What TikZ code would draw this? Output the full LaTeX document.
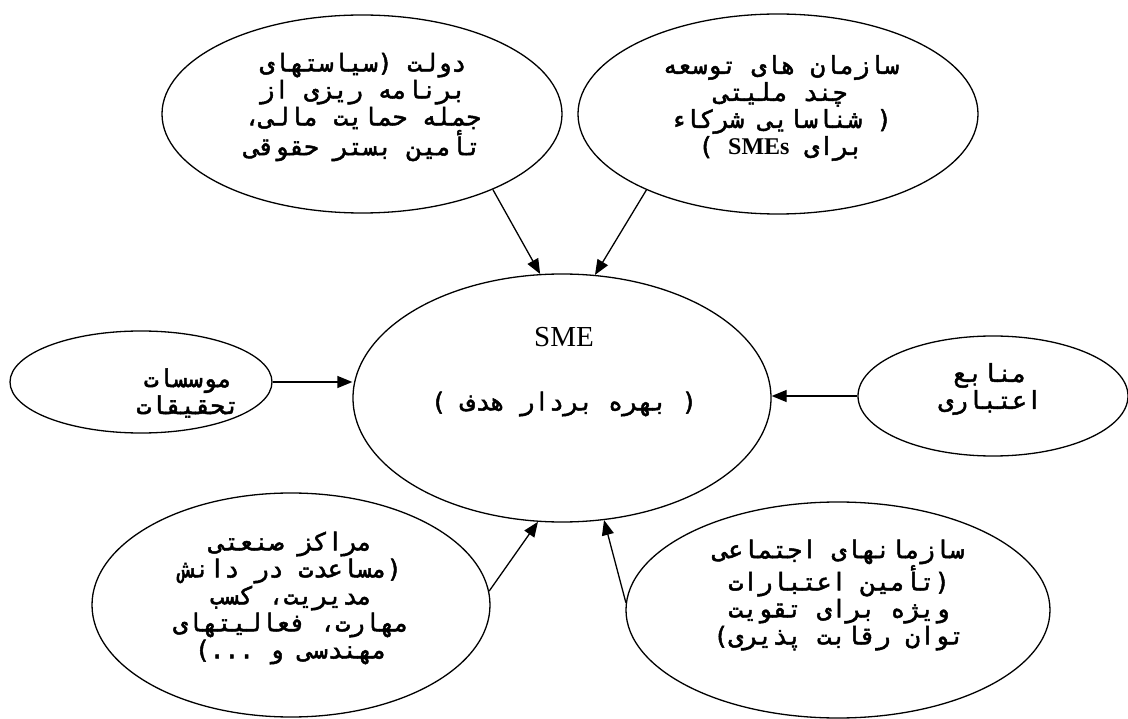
\documentclass[tikz,border=0pt]{standalone}
\usepackage{fontspec}
\usetikzlibrary{shapes.geometric,arrows.meta}
\TeXXeTstate=1
\newfontfamily\fafont[Script=Arabic,FakeBold=2]{DejaVu Sans Mono}
\newfontfamily\smefont{Liberation Serif}
\newcommand{\fa}[1]{\beginR #1\endR}

\begin{document}
\begin{tikzpicture}[x=1pt,y=-1pt,
  bubble/.style={draw,line width=1.3pt,ellipse,inner sep=0pt},
  fatext/.style={font=\fafont\fontsize{24.5}{27}\selectfont,align=center,inner sep=0pt},
  link/.style={line width=1.3pt,-{Triangle[length=15pt,width=12pt]}}]
\useasboundingbox (0,0) rectangle (1128,719);

% the ellipses
\node[bubble,minimum width=400pt,minimum height=198pt] (gov) at (362,114) {};
\node[bubble,minimum width=400pt,minimum height=200pt] (multi) at (778,114) {};
\node[bubble,minimum width=418pt,minimum height=248pt] (sme) at (562,398) {};
\node[bubble,minimum width=262pt,minimum height=102pt] (inst) at (141,382) {};
\node[bubble,minimum width=270pt,minimum height=120pt] (fund) at (993,396) {};
\node[bubble,minimum width=398pt,minimum height=224pt] (ind) at (291,605) {};
\node[bubble,minimum width=424pt,minimum height=216pt] (soc) at (838,610) {};

% the texts
\node[fatext] (govtext) at (363,107) {\fa{دولت (سیاستهای}\\\fa{برنامه ریزی از}\\\fa{جمله حمایت مالی،}\\\fa{تأمین بستر حقوقی}};
\node[fatext] (multitext) at (781,108) {\fa{سازمان های توسعه}\\\fa{چند ملیتی}\\\fa{( شناسایی شرکاء}\\\fa{برای \beginL{\smefont\bfseries\fontsize{24}{26}\selectfont SMEs}\endL{} )}};
\node[font=\smefont\fontsize{29}{30}\selectfont,inner sep=0pt] (smetitle) at (564,337) {SME};
\node[fatext] (smetext) at (564,404) {\fa{( بهره بردار هدف )}};
\node[fatext] (insttext) at (188,393) {\fa{موسسات}\\\fa{تحقیقات}};
\node[fatext] (fundtext) at (990,389) {\fa{منابع}\\\fa{اعتباری}};
\node[fatext] (indtext) at (291,598) {\fa{مراکز صنعتی}\\\fa{(مساعدت در دانش}\\\fa{مدیریت، کسب}\\\fa{مهارت، فعالیتهای}\\\fa{مهندسی و ...)}};
\node[fatext] (soctext) at (839,595) {\fa{سازمانهای اجتماعی}\\\fa{(تأمین اعتبارات}\\\fa{ویژه برای تقویت}\\\fa{توان رقابت پذیری)}};

% the arrows
\draw[link] (gov.-30) -- (sme.100);
\draw[link] (multi.-150) -- (sme.75);
\draw[link] (inst.east) -- (sme.west |- inst.east);
\draw[link] (fund.west) -- (sme.east |- fund.west);
\draw[link] (ind.4) -- (sme.-101);
\draw[link] (soc.178) -- (sme.-71);
\end{tikzpicture}
\end{document}
